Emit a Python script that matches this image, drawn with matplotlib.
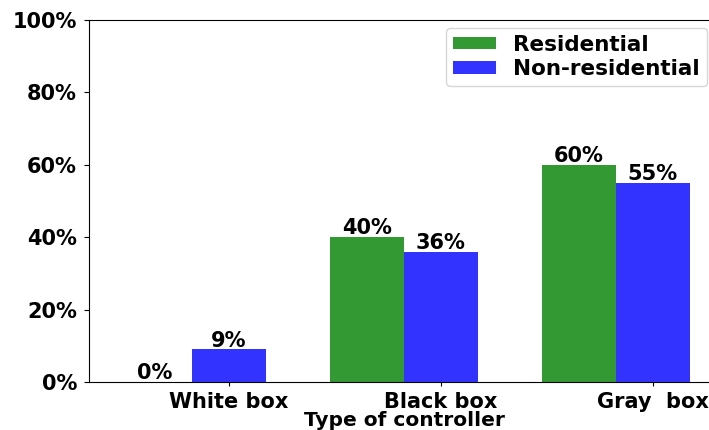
import matplotlib
matplotlib.use('Agg')
import matplotlib.pyplot as plt
import numpy as np

categories = ['White box', 'Black box', 'Gray  box']
residential = [0, 40, 60]
non_residential = [9, 36, 55]
yticks = [0, 20, 40, 60, 80, 100]

plt.rcParams['font.family'] = ['DejaVu Sans']
plt.rcParams['font.weight'] = 'bold'

fig = plt.figure(figsize=(7.09, 4.30), dpi=100)
ax = fig.add_axes([89/709, 1-382/430, 1-89/709, (382-20)/430])

x = np.arange(len(categories))
w = 0.35
b1 = ax.bar(x - w/2, residential, w, color='#339933', label='Residential')
b2 = ax.bar(x + w/2, non_residential, w, color='#3333ff', label='Non-residential')

# percentage above each bar
for bars in (b1, b2):
    for r in bars:
        h = r.get_height()
        ax.text(r.get_x() + r.get_width()/2, h + 0.8, '%d%%' % h, ha='center', va='baseline',
                fontsize=15, fontweight='bold')

ax.set_xlim(-0.486, 2.44)
ax.set_ylim(0, 100)
ax.set_yticks(yticks)
ax.set_yticklabels(['%d%%' % v for v in yticks], fontsize=15, fontweight='bold')
ax.tick_params(axis='y', length=3.6, pad=5)
ax.set_xticks(x + w/2)
ax.set_xticklabels(categories, fontsize=15, fontweight='bold')
ax.tick_params(axis='x', length=3, pad=4)
ax.set_xlabel('Type of controller', fontsize=14.5, fontweight='bold', va='top')
ax.xaxis.set_label_coords(0.508, -29/362)
ax.spines['right'].set_visible(False)
ax.legend(loc='upper right', bbox_to_anchor=(707/709, 1-28/430), bbox_transform=fig.transFigure,
          borderaxespad=0, prop={'weight': 'bold', 'size': 15.5},
          labelspacing=0.2, borderpad=0.32, handleheight=0.5)

fig.savefig('out.png', dpi=100)
